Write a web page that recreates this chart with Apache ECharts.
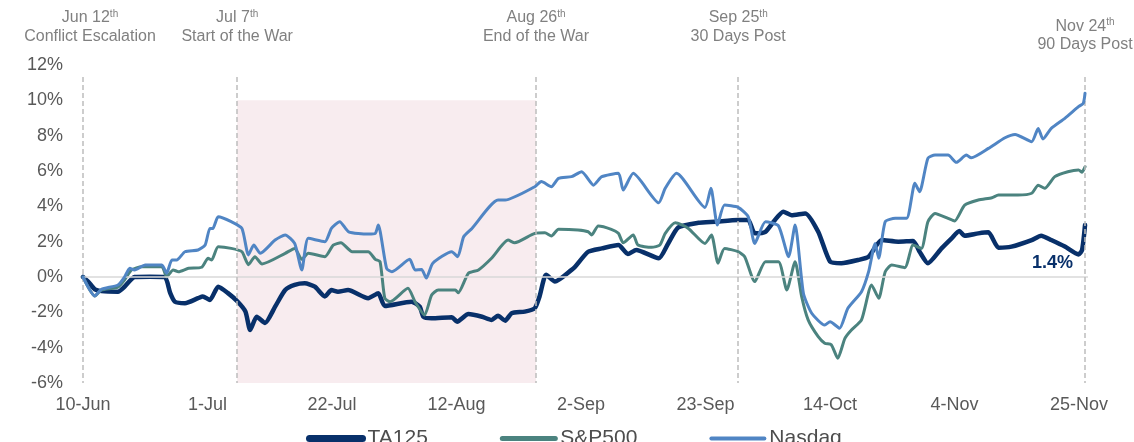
<!DOCTYPE html>
<html>
<head>
<meta charset="utf-8">
<script src="https://cdn.jsdelivr.net/npm/echarts@6/dist/echarts.min.js"></script>
<style>
html,body{margin:0;padding:0;background:#ffffff;}
#chart{width:1134px;height:442px;}
</style>
</head>
<body>
<div id="chart"></div>
<script>
// x values are calendar-day offsets from 10-Jun
const tickLabels = ['10-Jun','1-Jul','22-Jul','12-Aug','2-Sep','23-Sep','14-Oct','4-Nov','25-Nov'];
const tickStep = 21;
const seriesNames = ['TA125','S&P500','Nasdaq'];

const ta125 = [[0,0],[0.9,-0.27],[2.0,-0.7],[3.1,-0.8],[5.9,-0.83],[7.0,-0.55],[8.7,0],[11.3,0.02],[13.8,0],[14.7,-0.9],[15.5,-1.4],[17.2,-1.48],[19.4,-1.2],[20.2,-1.1],[21.4,-1.3],[22.8,-0.55],[24.4,-0.9],[26.1,-1.4],[27.4,-1.96],[28.2,-3.0],[29.3,-2.25],[30.7,-2.6],[32.4,-1.68],[34.1,-0.74],[35.7,-0.45],[37.4,-0.36],[39.1,-0.55],[40.8,-1.1],[41.9,-0.74],[43.0,-0.83],[44.7,-0.74],[48.1,-1.2],[49.8,-0.92],[50.9,-1.64],[55.4,-1.4],[56.8,-1.68],[57.4,-2.25],[58.8,-2.34],[62.2,-2.28],[63.1,-2.53],[65.0,-2.1],[67.3,-2.25],[68.9,-2.43],[70.0,-2.2],[71.2,-2.47],[72.3,-2.05],[74.5,-1.96],[76.2,-1.77],[77.0,-1.1],[78.1,0.13],[79.6,-0.26],[82.4,0.4],[83.0,0.58],[85.2,1.43],[87.5,1.62],[90.3,1.81],[91.9,1.3],[93.3,1.53],[97.1,1.06],[98.7,1.9],[100.4,2.81],[103.8,3.07],[106.6,3.13],[110.5,3.23],[112.2,3.23],[113.3,2.47],[115.1,2.56],[116.7,3.23],[118.1,3.7],[119.5,3.5],[121.8,3.6],[124.0,2.56],[126.0,0.87],[127.9,0.78],[130.7,0.96],[132.5,1.15],[134.7,2.09],[137.5,2.0],[140.0,2.04],[141.1,1.43],[142.5,0.78],[144.8,1.62],[146.5,2.19],[147.8,2.6],[148.7,2.34],[151.0,2.47],[152.7,2.53],[154.4,1.66],[156.6,1.72],[160.0,2.09],[161.6,2.34],[163.3,2.09],[165.6,1.72],[167.9,1.28],[168.5,1.53],[169.0,2.94]];

const sp500 = [[0,0],[2.0,-1.07],[3.1,-0.74],[5.9,-0.58],[7.0,-0.17],[8.2,0.4],[9.9,0.58],[13.3,0.58],[14.1,0],[15.2,0.4],[16.1,0.3],[17.8,0.49],[20.0,0.55],[21.1,1.06],[21.7,0.96],[22.8,1.71],[25.0,1.62],[26.8,1.43],[27.9,0.7],[29.0,1.15],[30.2,0.74],[34.1,1.34],[35.7,1.62],[36.9,1.0],[38.0,1.34],[40.8,1.15],[42.2,1.8],[43.5,1.94],[45.4,1.43],[48.1,1.43],[49.3,1.0],[50.1,0.87],[50.9,-1.2],[51.8,-1.4],[54.8,-0.64],[56.0,-1.4],[57.6,-2.15],[58.8,-1.02],[59.9,-0.74],[62.8,-0.74],[63.3,-0.89],[65.0,0.21],[66.7,0.4],[68.9,1.06],[71.7,2.09],[72.8,1.94],[76.2,2.47],[77.9,2.5],[79.0,2.32],[80.2,2.7],[83.5,2.66],[85.2,2.56],[85.8,2.38],[86.9,2.89],[89.1,2.7],[90.3,2.47],[91.1,1.94],[92.8,2.38],[93.6,1.81],[95.9,1.68],[97.3,1.81],[98.2,2.47],[99.9,3.07],[102.1,2.75],[104.9,1.9],[106.0,2.38],[107.1,0.78],[108.2,1.62],[110.5,1.43],[111.6,1.15],[113.3,-0.26],[115.1,0.87],[117.3,0.87],[118.7,-0.74],[120.1,0.87],[121.2,-1.1],[122.3,-2.43],[124.0,-3.38],[125.1,-3.75],[126.2,-3.83],[127.3,-4.6],[128.5,-3.47],[129.6,-3.0],[131.3,-2.43],[133.0,-0.45],[134.2,-1.2],[135.3,0.3],[136.4,0.68],[138.6,0.53],[140.0,1.81],[141.4,1.62],[142.5,3.13],[143.7,3.6],[145.9,3.32],[147.0,3.17],[148.7,4.07],[151.0,4.36],[153.3,4.49],[154.4,4.64],[157.7,4.64],[160.0,4.74],[161.1,5.2],[162.2,5.02],[163.9,5.68],[166.1,5.96],[167.9,6.06],[168.5,5.93],[169.0,6.24]];

const nasdaq = [[0,0],[2.0,-1.07],[3.1,-0.7],[5.9,-0.45],[7.0,0],[7.9,0.49],[8.7,0.4],[10.5,0.68],[13.3,0.68],[14.1,0.21],[15.0,0.96],[15.8,0.96],[17.2,1.43],[19.4,1.53],[20.6,1.81],[21.4,2.75],[21.9,2.75],[22.8,3.41],[25.0,3.13],[26.8,2.75],[27.9,1.25],[28.8,1.81],[29.9,1.34],[32.4,2.09],[34.1,2.38],[35.7,1.9],[36.9,0.4],[38.0,2.19],[40.8,2.0],[41.9,2.75],[43.3,3.13],[44.8,2.56],[48.1,2.43],[49.3,2.47],[49.8,2.94],[51.2,0.49],[52.1,0.3],[55.1,1.0],[56.0,0.4],[57.1,0.43],[57.9,-0.06],[59.0,0.78],[62.2,1.43],[63.2,1.15],[64.2,2.28],[65.6,2.75],[70.0,4.36],[71.2,4.36],[76.2,5.11],[77.3,5.4],[79.0,5.11],[80.2,5.58],[82.4,5.68],[84.1,5.96],[86.1,5.2],[87.5,5.68],[90.3,5.87],[91.1,4.92],[92.8,5.87],[97.1,4.2],[98.2,5.02],[100.1,5.87],[104.9,3.94],[105.9,5.02],[107.0,2.94],[108.2,4.07],[110.5,3.94],[112.2,3.41],[113.3,1.9],[115.1,3.13],[117.3,2.89],[119.0,1.15],[120.1,2.94],[121.5,-0.92],[122.9,-2.05],[125.1,-2.72],[126.0,-2.53],[127.6,-2.9],[129.0,-1.77],[131.3,-0.83],[132.5,0.3],[133.6,1.9],[134.2,1.06],[135.3,3.13],[137.0,3.32],[138.9,3.32],[140.3,5.3],[141.1,4.83],[142.5,6.72],[143.7,6.9],[145.9,6.9],[147.3,6.49],[149.0,6.9],[149.8,6.75],[152.7,7.28],[155.5,7.88],[157.2,8.07],[160.0,7.66],[161.1,8.41],[161.9,7.81],[163.3,8.41],[165.6,8.98],[167.9,9.64],[168.7,9.83],[169.0,10.4]];

// event markers
const eventDays = [0, 26.0, 76.4, 110.5, 169.0];
const eventDates = [['Jun 12','th'],['Jul 7','th'],['Aug 26','th'],['Sep 25','th'],['Nov 24','th']];
const eventTitles = ['Conflict Escalation','Start of the War','End of the War','30 Days Post','90 Days Post'];
const warPeriod = [26.0, 76.4];
const warBand = [10, -6];
const eventLineTop = 11.32;
const lastLabel = {text:'1.4%', point:[167.9, 1.28]};

const FONT = '"Liberation Sans", Arial, sans-serif';
const colors = ['#08306a','#4b837f','#5085c4'];

const chart = echarts.init(document.getElementById('chart'), null, {renderer:'canvas'});

const option = {
  animation:false,
  backgroundColor:'#ffffff',
  textStyle:{fontFamily:FONT},
  grid:{left:83, right:46, top:65, bottom:59, containLabel:false},
  legend:{
    left:301, top:423, itemWidth:53, itemHeight:8, itemGap:72,
    textStyle:{fontSize:21, color:'#4d4d4d', fontFamily:FONT},
    data:[
      {name:seriesNames[0], itemStyle:{opacity:0}, lineStyle:{width:7, cap:'round'}},
      {name:seriesNames[1], itemStyle:{opacity:0}, lineStyle:{width:5, cap:'round'}},
      {name:seriesNames[2], itemStyle:{opacity:0}, lineStyle:{width:4, cap:'round'}}
    ]
  },
  xAxis:{
    type:'value', min:0, max:169.5, interval:tickStep,
    axisLine:{show:false, onZero:false}, axisTick:{show:false}, splitLine:{show:false},
    axisLabel:{
      fontSize:18, color:'#595959', margin:13, fontFamily:FONT,
      formatter:function(v){
        const k = v / tickStep;
        if (Math.abs(k - Math.round(k)) < 1e-6 && Math.round(k) < tickLabels.length) return tickLabels[Math.round(k)];
        return '';
      }
    }
  },
  yAxis:{
    type:'value', min:-6, max:12, interval:2,
    axisLine:{show:false}, axisTick:{show:false}, splitLine:{show:false},
    axisLabel:{fontSize:18, color:'#595959', margin:20, fontFamily:FONT, formatter:'{value}%'}
  },
  series:[
    {
      type:'line', name:'_bg', data:[], z:1, silent:true,
      markArea:{
        silent:true,
        itemStyle:{color:'#f8ecef'},
        data:[[{coord:[warPeriod[0], warBand[0]]},{coord:[warPeriod[1], warBand[1]]}]]
      },
      markLine:{
        silent:true, symbol:['none','none'], label:{show:false},
        data:[
          {yAxis:0, lineStyle:{color:'#d9d9d9', width:1.5, type:'solid'}}
        ].concat(eventDays.map(function(d){
          return [{coord:[d, eventLineTop], lineStyle:{color:'#bdbdbd', width:1.5, type:[5,3]}},{coord:[d, -6]}];
        }))
      }
    },
    {
      type:'line', name:seriesNames[0], data:ta125, z:3, symbol:'none', showSymbol:false, smooth:0.2,
      lineStyle:{color:colors[0], width:4.5, cap:'round', join:'round'}, itemStyle:{color:colors[0]},
      markPoint:{
        silent:true, symbol:'circle', symbolSize:0,
        data:[{coord:lastLabel.point, label:{show:true, formatter:lastLabel.text, offset:[-26,9], color:colors[0], fontSize:18, fontWeight:'bold', fontFamily:FONT}}]
      }
    },
    {
      type:'line', name:seriesNames[1], data:sp500, z:4, symbol:'none', showSymbol:false, smooth:0.2,
      lineStyle:{color:colors[1], width:3, cap:'round', join:'round'}, itemStyle:{color:colors[1]}
    },
    {
      type:'line', name:seriesNames[2], data:nasdaq, z:5, symbol:'none', showSymbol:false, smooth:0.2,
      lineStyle:{color:colors[2], width:3, cap:'round', join:'round'}, itemStyle:{color:colors[2]}
    }
  ]
};

chart.setOption(option);

// event annotations positioned through the axis scale
const graphics = [];
eventDays.forEach(function(d, i){
  const px = chart.convertToPixel({xAxisIndex:0}, d);
  const dx = (i === 0) ? 7 : 0;
  const dy = (i === eventDays.length - 1) ? 8.5 : 0;
  graphics.push({
    type:'text', silent:true,
    style:{
      x:px + dx, y:17.8 + dy, align:'center', verticalAlign:'middle',
      text:'{a|' + eventDates[i][0] + '}{s|' + eventDates[i][1] + '}',
      rich:{
        a:{fontSize:16, fontFamily:FONT, fill:'#808080', lineHeight:18, verticalAlign:'middle'},
        s:{fontSize:10, fontFamily:FONT, fill:'#808080', lineHeight:18, verticalAlign:'top'}
      }
    }
  });
  graphics.push({
    type:'text', silent:true,
    style:{
      x:px + dx, y:36.5 + dy, align:'center', verticalAlign:'middle',
      text:eventTitles[i], font:'16px ' + FONT, fill:'#808080'
    }
  });
});
chart.setOption({graphic:graphics});
</script>
</body>
</html>
